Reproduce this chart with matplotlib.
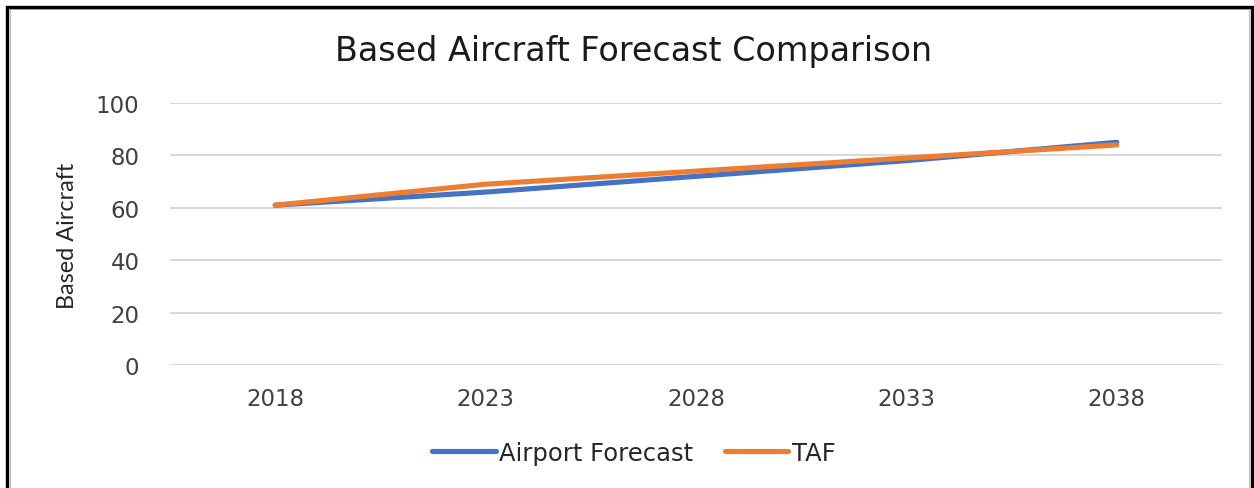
import matplotlib
matplotlib.use("Agg")
import matplotlib.pyplot as plt
from matplotlib.lines import Line2D

# based aircraft counts by forecast year
years = ["2018", "2023", "2028", "2033", "2038"]
airport_forecast = [61, 66, 72, 78, 85]
taf = [61, 69, 74, 79, 84]

plt.rcParams['font.family'] = ['DejaVu Sans']

W, H = 1254, 489
fig = plt.figure(figsize=(W / 100, H / 100), dpi=100)
ax = fig.add_axes([170 / W, 1 - 366 / H, (1222 - 170) / W, (366 - 104) / H])

x = range(len(years))
ax.plot(x, airport_forecast, color='#4472C4', lw=3.7, solid_capstyle='round',
        label='Airport Forecast', zorder=3)
ax.plot(x, taf, color='#ED7D31', lw=3.7, solid_capstyle='round',
        label='TAF', zorder=4)

ax.set_xlim(-0.5, len(years) - 0.5)
ax.set_ylim(0, 100)
ax.set_yticks(range(0, 101, 20))
ax.set_xticks(list(x))
ax.set_xticklabels(years)
ax.grid(axis='y', color='#D9D9D9', lw=1.5)
ax.set_axisbelow(True)
for s in ax.spines.values():
    s.set_visible(False)
ax.tick_params(axis='both', length=0, labelsize=16.5, colors='#404040')
ax.tick_params(axis='y', pad=22)
ax.tick_params(axis='x', pad=16)

# vertical axis title
fig.text(67 / W, 1 - 236 / H, 'Based Aircraft', rotation=90, fontsize=16.8,
         family='Lato', color='#262626', ha='center', va='center')

fig.text(634 / W, 1 - 52 / H, 'Based Aircraft Forecast Comparison',
         fontsize=24, color='#1a1a1a', ha='center', va='center')

fig.legend(loc='center', bbox_to_anchor=(634 / W, 1 - 454 / H), ncol=2,
           frameon=False, fontsize=17.5, handlelength=2.6, handletextpad=0.15,
           columnspacing=1.3, labelcolor='#262626')

# page frame around the chart
fig.add_artist(Line2D([9.5 / W, 9.5 / W, 1249 / W, 1249 / W],
                      [0, 1 - 10 / H, 1 - 10 / H, 0],
                      transform=fig.transFigure, color='#BFBFBF', lw=0.8))
fig.add_artist(Line2D([7 / W, 7 / W, 1252 / W, 1252 / W],
                      [0, 1 - 8 / H, 1 - 8 / H, 0],
                      transform=fig.transFigure, color='black', lw=2.4,
                      solid_joinstyle='miter'))

fig.savefig('out.png', dpi=100)
